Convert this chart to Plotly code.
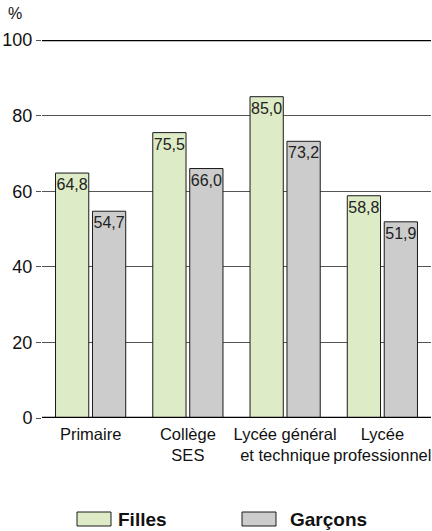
import plotly.graph_objects as go

categories = ["Primaire", "Collège<br>SES", "Lycée général<br>et technique", "Lycée<br>professionnel"]
filles = [64.8, 75.5, 85.0, 58.8]
garcons = [54.7, 66.0, 73.2, 51.9]
y_ticks = [0, 20, 40, 60, 80, 100]

GREEN = "#DDEBC6"
GREY = "#CCCCCC"
SANS = "Liberation Sans, Arial, sans-serif"

def fmt(v):
    return f"{v:.1f}".replace(".", ",")

fig = go.Figure()
for name, vals, col in [("Filles", filles, GREEN), ("Garçons", garcons, GREY)]:
    fig.add_trace(go.Bar(
        name=name, x=categories, y=vals,
        marker=dict(color=col, line=dict(color="#1a1a1a", width=1)),
        text=[fmt(v) for v in vals],
        textposition="inside", insidetextanchor="end", constraintext="none",
        textfont=dict(family=SANS, size=16, color="#222222"),
        textangle=0, cliponaxis=False,
    ))

fig.update_layout(
    width=432, height=531,
    margin=dict(l=42, r=1, t=40, b=113, autoexpand=False),
    paper_bgcolor="white", plot_bgcolor="white",
    barmode="group", bargap=0.24, bargroupgap=0.1,
    showlegend=False,
    xaxis=dict(
        type="category", range=[-0.5, 3.5], showgrid=False, zeroline=False,
        showline=False, ticks="", tickangle=0, automargin=False,
        ticklabelstandoff=4,
        tickfont=dict(family=SANS, size=16.5, color="#111111"),
    ),
    yaxis=dict(
        range=[0, 100], tickvals=y_ticks, showgrid=True, automargin=False,
        gridcolor="#555555", gridwidth=1, zeroline=False, showline=False,
        ticks="outside", ticklen=5, tickcolor="#555555", tickwidth=1,
        tickfont=dict(family=SANS, size=18, color="#111111"),
    ),
)

# thick axis lines at 0 and 100
for yv in (0, 100):
    fig.add_shape(type="line", xref="paper", yref="y", x0=0, x1=1, y0=yv, y1=yv,
                  line=dict(color="black", width=2.5), layer="above")

fig.add_annotation(text="%", xref="paper", yref="paper", x=(15 - 42) / 389, y=1.0, yshift=27,
                   showarrow=False, font=dict(family=SANS, size=16, color="#111111"),
                   xanchor="center", yanchor="middle")

# custom legend
legend_items = [("Filles", GREEN, 77, 111, 116), ("Garçons", GREY, 242, 276, 288)]
for label, col, bx0, bx1, tx in legend_items:
    fig.add_shape(type="rect", xref="paper", yref="paper",
                  x0=(bx0 - 42) / 389, x1=(bx1 - 42) / 389,
                  y0=-(512 - 418) / 378, y1=-(526 - 418) / 378,
                  fillcolor=col, line=dict(color="#1a1a1a", width=1))
    fig.add_annotation(text=f"<b>{label}</b>", xref="paper", yref="paper",
                       x=(tx - 42) / 389, y=-(519 - 418) / 378,
                       showarrow=False, xanchor="left", yanchor="middle",
                       font=dict(family=SANS, size=19, color="#111111"))

fig.write_html("out.html")
